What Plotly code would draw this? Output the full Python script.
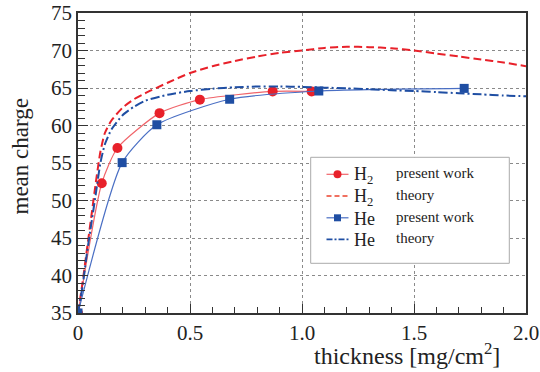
import plotly.graph_objects as go

# ---- data ----
h2_exp_x = [0.0, 0.106, 0.176, 0.364, 0.544, 0.869, 1.043]
h2_exp_y = [35.0, 52.3, 57.0, 61.65, 63.45, 64.55, 64.55]

he_exp_x = [0.0, 0.197, 0.352, 0.677, 1.075, 1.724]
he_exp_y = [35.0, 55.05, 60.1, 63.5, 64.6, 64.95]

theory_x = [0, 0.02, 0.04, 0.06, 0.08, 0.1, 0.12, 0.15, 0.2, 0.25, 0.3, 0.4, 0.5,
            0.6, 0.7, 0.8, 0.9, 1.0, 1.1, 1.2, 1.3, 1.4, 1.5, 1.6, 1.7, 1.8, 1.9, 2.0]
h2_theory_y = [35, 39, 43.5, 48, 52.5, 56.5, 59, 60.7, 62.4, 63.5, 64.3, 65.7, 67.0,
               67.9, 68.6, 69.2, 69.7, 70.0, 70.35, 70.5, 70.45, 70.3, 70.0, 69.6,
               69.2, 68.8, 68.4, 67.9]
he_theory_y = [35, 38.5, 43, 47, 51, 55, 57.5, 59.5, 61.4, 62.5, 63.3, 64.1, 64.6,
               64.9, 65.1, 65.2, 65.2, 65.15, 65.05, 64.95, 64.85, 64.7, 64.6, 64.45,
               64.3, 64.15, 64.0, 63.9]

x_tickvals = [0, 0.5, 1.0, 1.5, 2.0]
x_ticktext = ["0", "0.5", "1.0", "1.5", "2.0"]
y_tickvals = [35, 40, 45, 50, 55, 60, 65, 70, 75]

legend_species = ["H<sub>2</sub>", "H<sub>2</sub>", "He", "He"]
legend_desc = ["present work", "theory", "present work", "theory"]

RED = "#e8212a"
RED_LINE = "#f0646a"
BLUE = "#1f4ea3"
BLUE_LINE = "#4a6fc4"
FONT = "Liberation Serif"
TXT = "#222"
H2_DASH = "8px,4px"
HE_DASH = "9px,3px,2px,3px"

# plot-area geometry helpers (pixels -> paper)
L, R, T, B = 78, 14, 13, 59
W, H = 540, 372
PW, PH = W - L - R, H - T - B


def px(xp):
    return (xp - L) / PW


def py(yp):
    return (H - B - yp) / PH


fig = go.Figure()
fig.add_trace(go.Scatter(
    x=h2_exp_x, y=h2_exp_y, mode="lines+markers", name="H2 present work",
    line=dict(color=RED_LINE, width=1.2, shape="spline", smoothing=0.6),
    marker=dict(symbol="circle", size=10, color=RED)))
fig.add_trace(go.Scatter(
    x=theory_x, y=h2_theory_y, mode="lines", name="H2 theory",
    line=dict(color=RED, width=2, dash=H2_DASH, shape="spline", smoothing=0.6)))
fig.add_trace(go.Scatter(
    x=he_exp_x, y=he_exp_y, mode="lines+markers", name="He present work",
    line=dict(color=BLUE_LINE, width=1.2, shape="spline", smoothing=0.6),
    marker=dict(symbol="square", size=9, color=BLUE)))
fig.add_trace(go.Scatter(
    x=theory_x, y=he_theory_y, mode="lines", name="He theory",
    line=dict(color=BLUE, width=2, dash=HE_DASH, shape="spline", smoothing=0.6)))

fig.update_layout(
    width=W, height=H,
    margin=dict(l=L, r=R, t=T, b=B),
    paper_bgcolor="white", plot_bgcolor="white",
    font=dict(family=FONT, size=21, color=TXT),
    showlegend=False,
    xaxis=dict(range=[0, 2.0], tickvals=x_tickvals, ticktext=x_ticktext,
               ticks="inside", ticklen=9, tickcolor="#333", tickwidth=1,
               showline=True, linecolor="#333", linewidth=1.5, mirror=True,
               showgrid=True, gridcolor="#8a8a8a", griddash="dot", gridwidth=1,
               zeroline=False, automargin=False,
               minor=dict(dtick=0.1, ticks="inside", ticklen=6, tickcolor="#333",
                          showgrid=False),
               tickfont=dict(family=FONT, size=21, color=TXT)),
    yaxis=dict(range=[35, 75], tickvals=y_tickvals,
               ticks="inside", ticklen=10, tickcolor="#333", tickwidth=1,
               showline=True, linecolor="#333", linewidth=1.5, mirror=True,
               showgrid=True, gridcolor="#8a8a8a", griddash="dot", gridwidth=1,
               zeroline=False, automargin=False,
               minor=dict(dtick=1, ticks="inside", ticklen=7, tickcolor="#333",
                          showgrid=False),
               tickfont=dict(family=FONT, size=21, color=TXT)),
)

# axis titles
fig.add_annotation(
    x=px(19.5), y=py(157), xref="paper", yref="paper", xanchor="center",
    yanchor="middle", textangle=-90, text="mean charge", showarrow=False,
    font=dict(family=FONT, size=23, color=TXT))
fig.add_annotation(
    x=px(502), y=py(354), xref="paper", yref="paper", xanchor="right",
    yanchor="middle", text="thickness [mg/cm<sup>2</sup>]", showarrow=False,
    font=dict(family=FONT, size=24, color=TXT))

# manual legend box
fig.add_shape(type="rect", xref="paper", yref="paper",
              x0=px(310.7), x1=px(509.3), y0=py(263.3), y1=py(157.3),
              line=dict(color="#aaaaaa", width=1), fillcolor="white", layer="above")

rows = [174.3, 196.0, 217.8, 239.3]
styles = [
    dict(color=RED_LINE, width=1.2, dash="solid"),
    dict(color="#f07060", width=1.8, dash="5px,3px"),
    dict(color=BLUE_LINE, width=1.2, dash="solid"),
    dict(color=BLUE, width=1.8, dash="6px,2px,2px,2px"),
]
markers = ["circle", None, "square", None]
for i, yr in enumerate(rows):
    fig.add_shape(type="line", xref="paper", yref="paper",
                  x0=px(326.5), x1=px(348.5), y0=py(yr), y1=py(yr),
                  line=styles[i], layer="above")
    if markers[i] == "circle":
        fig.add_shape(type="circle", xref="paper", yref="paper",
                      x0=px(333.5), x1=px(341.5), y0=py(yr + 4), y1=py(yr - 4),
                      line=dict(color=RED, width=0), fillcolor=RED, layer="above")
    elif markers[i] == "square":
        fig.add_shape(type="rect", xref="paper", yref="paper",
                      x0=px(334), x1=px(341), y0=py(yr + 3.5), y1=py(yr - 3.5),
                      line=dict(color=BLUE, width=0), fillcolor=BLUE, layer="above")
    fig.add_annotation(x=px(352), y=py(yr + 1), xref="paper", yref="paper",
                       xanchor="left", yanchor="middle", text=legend_species[i],
                       showarrow=False, font=dict(family=FONT, size=18, color=TXT))
    fig.add_annotation(x=px(394), y=py(yr - 1), xref="paper", yref="paper",
                       xanchor="left", yanchor="middle", text=legend_desc[i],
                       showarrow=False, font=dict(family=FONT, size=15, color=TXT))

fig.write_html(
    "out.html",
    config={"displayModeBar": False},
    post_script="document.body.style.margin='0';document.body.style.padding='0';")
